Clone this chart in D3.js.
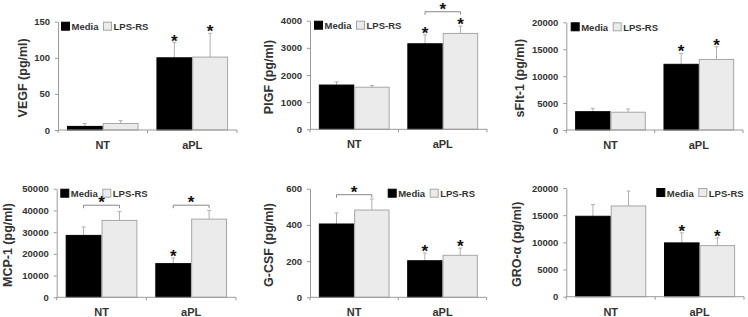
<!DOCTYPE html>
<head>
    <meta charset="utf-8">
    <script src="https://d3js.org/d3.v7.min.js"></script>
    <style>
        body { margin: 0; background: #fff; }
        text { font-family: "Liberation Sans", Arial, sans-serif; font-weight: bold; }
    </style>
</head>

<body>
    <div id="panels"></div>
</body>

<script>
    // data
    const categories = ["NT", "aPL"];
    const seriesNames = ["Media", "LPS-RS"];
    const yLabels = ["VEGF (pg/ml)", "PlGF (pg/ml)", "sFlt-1 (pg/ml)", "MCP-1 (pg/ml)", "G-CSF (pg/ml)", "GRO-\u03b1 (pg/ml)"];
    const yTicks = [
        [0, 50, 100, 150],
        [0, 1000, 2000, 3000, 4000],
        [0, 5000, 10000, 15000, 20000],
        [0, 10000, 20000, 30000, 40000, 50000],
        [0, 200, 400, 600],
        [0, 5000, 10000, 15000, 20000]
    ];
    const mediaValues = [[5, 100], [1630, 3150], [3400, 12200], [28500, 15500], [405, 202], [14800, 9900]];
    const mediaErrors = [[4, 21], [120, 330], [630, 2040], [3850, 2600], [61, 43], [2150, 1850]];
    const lpsValues   = [[9, 101], [1550, 3530], [3300, 13100], [35400, 36000], [482, 232], [16700, 9400]];
    const lpsErrors   = [[4, 33], [60, 270], [600, 2350], [4150, 4000], [61, 40], [2750, 1400]];
    // significance marks: [panel, category, series]
    const starMarks = [[0, "aPL", 0], [0, "aPL", 1], [1, "aPL", 0], [1, "aPL", 1], [2, "aPL", 0], [2, "aPL", 1],
                       [3, "aPL", 0], [4, "aPL", 0], [4, "aPL", 1], [5, "aPL", 0], [5, "aPL", 1]];
    // brackets: [panel, category, level in data units]
    const bracketMarks = [[1, "aPL", 4330], [3, "NT", 42400], [3, "aPL", 42400], [4, "NT", 567]];

    // panel geometry (pixels)
    const layout = [
        {x0: 58,    x1: 237,   yTop: 21.7,  y0: 130,   labelX: 23,    legX: 61},
        {x0: 310,   x1: 487,   yTop: 20.7,  y0: 129.3, labelX: 269,   legX: 314},
        {x0: 566.3, x1: 743,   yTop: 22.3,  y0: 130,   labelX: 520,   legX: 570.7},
        {x0: 56.7,  x1: 236,   yTop: 188.7, y0: 297.3, labelX: 8,     legX: 60.3},
        {x0: 310,   x1: 486.7, yTop: 188.7, y0: 297.3, labelX: 268.5, legX: 387.7},
        {x0: 566.3, x1: 744,   yTop: 188,   y0: 296.7, labelX: 517,   legX: 656.3}
    ];

    const axisColor = "#9a9a9a";
    const textColor = "#333";
    const fills = ["#000", "#ebebeb"];
    const strokes = ["#000", "#a6a6a6"];

    const svg = d3.select("#panels").append("svg")
        .attr("width", 748)
        .attr("height", 317);

    layout.forEach((L, p) => {
        const g = svg.append("g");

        const x = d3.scaleBand().domain(categories).range([L.x0, L.x1]);
        const xs = d3.scaleBand().domain(seriesNames).range([0, x.bandwidth()]).paddingOuter(0.25);
        const ticks = yTicks[p];
        const y = d3.scaleLinear().domain([0, d3.max(ticks)]).range([L.y0, L.yTop]);

        const rows = [];
        categories.forEach((c, i) => {
            rows.push({c: c, s: 0, v: mediaValues[p][i], e: mediaErrors[p][i]});
            rows.push({c: c, s: 1, v: lpsValues[p][i], e: lpsErrors[p][i]});
        });
        const cx = d => x(d.c) + xs(seriesNames[d.s]) + xs.bandwidth() / 2;

        // error bars (upper only)
        rows.forEach(d => {
            g.append("line")
                .attr("x1", cx(d)).attr("x2", cx(d))
                .attr("y1", y(d.v)).attr("y2", y(d.v + d.e))
                .attr("stroke", "#b0b0b0").attr("stroke-width", 1);
            g.append("line")
                .attr("x1", cx(d) - 2).attr("x2", cx(d) + 2)
                .attr("y1", y(d.v + d.e)).attr("y2", y(d.v + d.e))
                .attr("stroke", "#b0b0b0").attr("stroke-width", 1);
        });

        // bars
        g.selectAll("rect.bar").data(rows).enter().append("rect")
            .attr("class", "bar")
            .attr("x", d => x(d.c) + xs(seriesNames[d.s]) + 0.5)
            .attr("y", d => y(d.v))
            .attr("width", xs.bandwidth() - 1)
            .attr("height", d => y(0) - y(d.v))
            .attr("fill", d => fills[d.s])
            .attr("stroke", d => strokes[d.s])
            .attr("stroke-width", 1);

        // y axis
        const ya = g.append("g")
            .attr("transform", `translate(${L.x0},0)`)
            .call(d3.axisLeft(y).tickValues(ticks).tickFormat(d3.format("d"))
                .tickSize(3).tickSizeOuter(0).tickPadding(5));
        ya.select(".domain").attr("stroke", axisColor);
        ya.selectAll(".tick line").attr("stroke", axisColor);
        ya.selectAll(".tick text")
            .attr("fill", textColor)
            .style("font-size", "9.5px");

        // x axis
        g.append("line")
            .attr("x1", L.x0).attr("x2", L.x1)
            .attr("y1", L.y0).attr("y2", L.y0)
            .attr("stroke", axisColor);
        categories.map(c => x(c)).concat([L.x1]).forEach(t => {
            g.append("line")
                .attr("x1", t).attr("x2", t)
                .attr("y1", L.y0).attr("y2", L.y0 + 3)
                .attr("stroke", axisColor);
        });
        categories.forEach(c => {
            g.append("text")
                .attr("x", x(c) + x.bandwidth() / 2)
                .attr("y", L.y0 + 19)
                .attr("text-anchor", "middle")
                .attr("fill", textColor)
                .style("font-size", "11px")
                .text(c);
        });

        // y label
        const ly = (L.y0 + L.yTop) / 2 + 2;
        g.append("text")
            .attr("transform", `translate(${L.labelX + 4},${ly}) rotate(-90)`)
            .attr("text-anchor", "middle")
            .attr("fill", textColor)
            .style("font-size", "12.5px")
            .text(yLabels[p]);

        // legend
        seriesNames.forEach((s, i) => {
            const lx = L.legX + i * 42;
            g.append("rect")
                .attr("x", lx + 0.5).attr("y", L.yTop + 0.5)
                .attr("width", 8).attr("height", 8)
                .attr("fill", fills[i]).attr("stroke", strokes[i]);
            g.append("text")
                .attr("x", lx + 10.5).attr("y", L.yTop + 8.5)
                .attr("fill", textColor)
                .style("font-size", "9.5px")
                .text(s);
        });

        // stars on bars
        starMarks.filter(m => m[0] === p).forEach(m => {
            const d = rows.find(r => r.c === m[1] && r.s === m[2]);
            g.append("text")
                .attr("x", cx(d))
                .attr("y", y(d.v + d.e) + 4)
                .attr("text-anchor", "middle")
                .attr("fill", "#111")
                .style("font-size", "17px")
                .text("*");
        });

        // brackets
        bracketMarks.filter(m => m[0] === p).forEach(m => {
            const a = x(m[1]) + xs(seriesNames[0]) + xs.bandwidth() / 2;
            const b = x(m[1]) + xs(seriesNames[1]) + xs.bandwidth() / 2;
            const by = y(m[2]);
            g.append("path")
                .attr("d", `M${a},${by + 3}V${by}H${b}V${by + 3}`)
                .attr("fill", "none")
                .attr("stroke", "#888");
            g.append("text")
                .attr("x", (a + b) / 2)
                .attr("y", by + 3)
                .attr("text-anchor", "middle")
                .attr("fill", "#111")
                .style("font-size", "17px")
                .text("*");
        });
    });
</script>
</html>
